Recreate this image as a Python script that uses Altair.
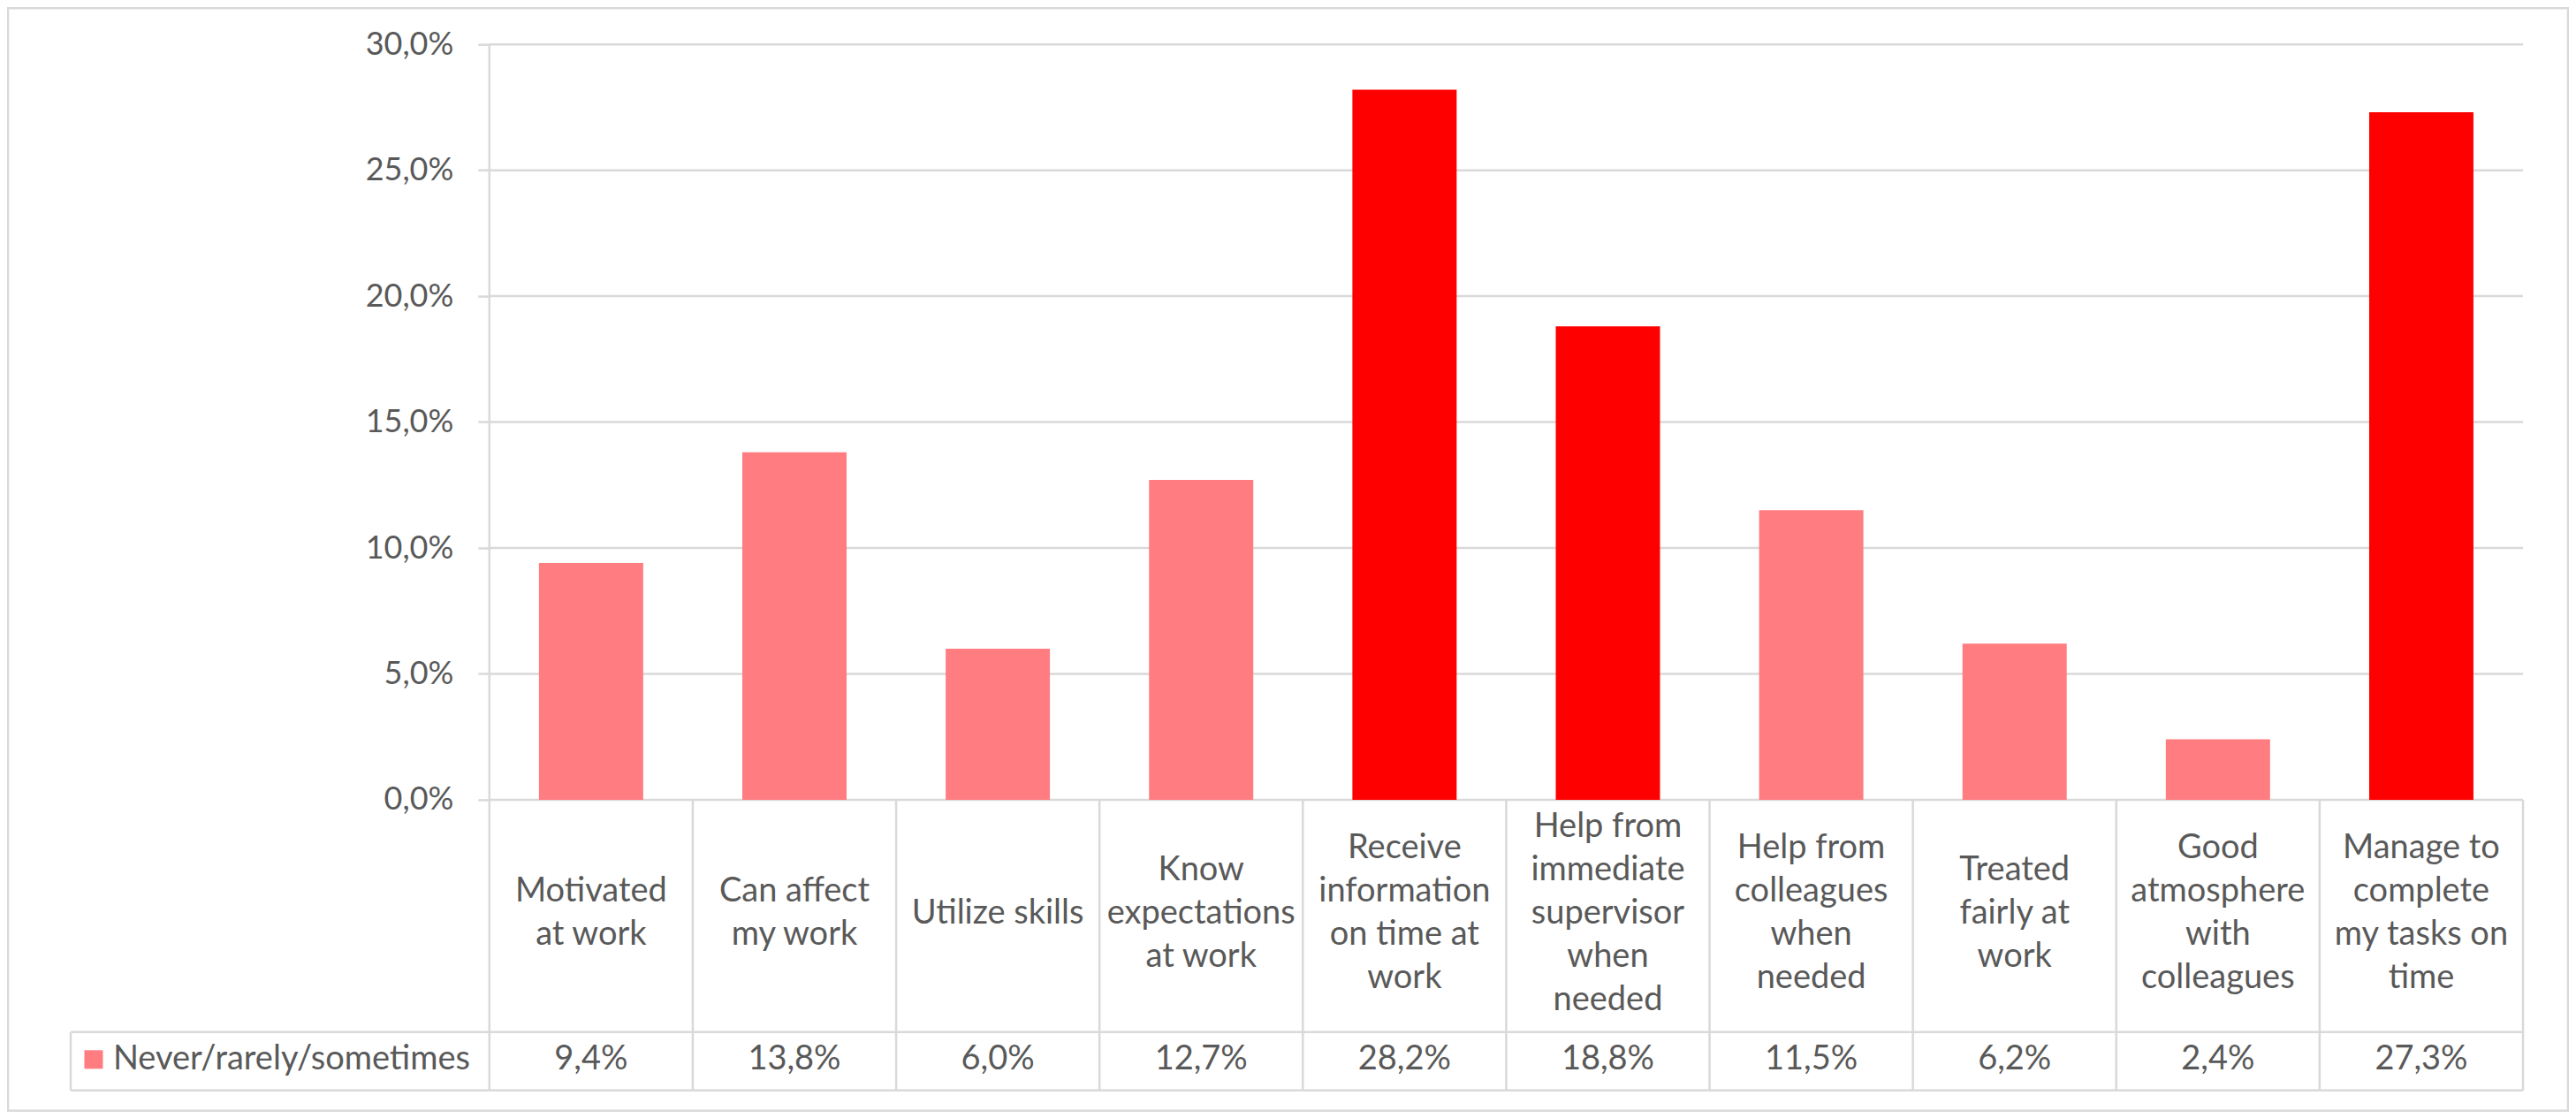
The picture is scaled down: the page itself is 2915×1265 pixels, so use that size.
import altair as alt
import pandas as pd

# ---- data ----
categories = [
    "Motivated\nat work",
    "Can affect\nmy work",
    "Utilize skills",
    "Know\nexpectations\nat work",
    "Receive\ninformation\non time at\nwork",
    "Help from\nimmediate\nsupervisor\nwhen\nneeded",
    "Help from\ncolleagues\nwhen\nneeded",
    "Treated\nfairly at\nwork",
    "Good\natmosphere\nwith\ncolleagues",
    "Manage to\ncomplete\nmy tasks on\ntime",
]
values = [9.4, 13.8, 6.0, 12.7, 28.2, 18.8, 11.5, 6.2, 2.4, 27.3]
series_name = "Never/rarely/sometimes"
y_ticks = [0, 5, 10, 15, 20, 25, 30]

# ---- layout (pixels of the view) ----
W, H = 2898, 1248
PX0, UX = 545, 230.2      # x pixel of category 0 start, px per category
PY0, UY = 896, 28.5       # y pixel of 0 %, px per percent
xdom = [-PX0 / UX, (W - PX0) / UX]
ydom = [(PY0 - H) / UY, PY0 / UY]

LINE_H = 49
ROW_SPLIT = (905 - 1168) / UY
TABLE_BOTTOM = (905 - 1234) / UY
CAT_Y = (905 - 1034) / UY
VAL_Y = (905 - 1199) / UY
LEG_LEFT = (80 - 554) / UX
LEG_SQ = (106 - 554) / UX
LEG_TXT = (128 - 554) / UX
HALF_BAR = 0.2563

n = len(categories)
TEXT = "#595959"
GRID = "#D9D9D9"
FONT = "Lato"
FS = 38
FS_AX = 36

xs = alt.Scale(domain=xdom, nice=False, zero=False)
ys = alt.Scale(domain=ydom, nice=False, zero=False)
yaxis = alt.Axis(
    values=y_ticks,
    labelExpr="replace(format(datum.value, '.1f'), '.', ',') + '%'",
    grid=False, domain=False, title=None,
    tickColor=GRID, tickWidth=2.5, tickSize=13,
    labelPadding=28, labelFontSize=FS_AX, labelFont=FONT, labelColor=TEXT,
    offset=-PX0,
)

bars_df = pd.DataFrame({
    "cat": categories,
    "value": values,
    "idx": list(range(n)),
})
bars_df["x"] = bars_df["idx"] + 0.5 - HALF_BAR
bars_df["x2"] = bars_df["idx"] + 0.5 + HALF_BAR
bars_df["xc"] = bars_df["idx"] + 0.5
bars_df["label"] = [f"{v:.1f}".replace(".", ",") + "%" for v in values]
bars_df["zero"] = 0.0
# first line position so that the whole block is centred in the row
bars_df["caty"] = [CAT_Y + (c.count("\n") / 2) * LINE_H / UY for c in categories]
bars_df["valy"] = VAL_Y

# grid lines (horizontal)
grid_df = pd.DataFrame({"y": y_ticks, "x": 0.0, "x2": float(n)})

# table lines
segs = []
for i in range(n + 1):
    top = y_ticks[-1] if i == 0 else 0.0
    segs.append({"x": float(i), "x2": float(i), "y": top, "y2": TABLE_BOTTOM})
segs.append({"x": LEG_LEFT, "x2": LEG_LEFT, "y": ROW_SPLIT, "y2": TABLE_BOTTOM})
segs.append({"x": LEG_LEFT, "x2": float(n), "y": ROW_SPLIT, "y2": ROW_SPLIT})
segs.append({"x": LEG_LEFT, "x2": float(n), "y": TABLE_BOTTOM, "y2": TABLE_BOTTOM})
lines_df = pd.DataFrame(segs)

legend_df = pd.DataFrame({"name": [series_name], "x": [LEG_SQ], "xt": [LEG_TXT], "y": [VAL_Y]})

base_x = lambda f: alt.X(f, type="quantitative", scale=xs, axis=None)
base_y = lambda f: alt.Y(f, type="quantitative", scale=ys, axis=yaxis)

grid = alt.Chart(grid_df).mark_rule(color=GRID, strokeWidth=2.5).encode(
    x=base_x("x"), x2="x2", y=base_y("y")
)
lines = alt.Chart(lines_df).mark_rule(color=GRID, strokeWidth=2.5).encode(
    x=base_x("x"), x2="x2", y=base_y("y"), y2="y2"
)
bars = alt.Chart(bars_df).mark_rect().encode(
    x=base_x("x"), x2="x2", y=base_y("zero"), y2="value",
    color=alt.condition("datum.value > 15", alt.value("#FF0000"), alt.value("#FF7C80")),
)
cat_text = alt.Chart(bars_df).mark_text(
    lineBreak="\n", lineHeight=LINE_H, fontSize=FS, font=FONT, color=TEXT,
    align="center", baseline="middle",
).encode(x=base_x("xc"), y=base_y("caty"), text="cat")
val_text = alt.Chart(bars_df).mark_text(
    fontSize=FS, font=FONT, color=TEXT, align="center", baseline="middle",
).encode(x=base_x("xc"), y=base_y("valy"), text="label")
leg_sq = alt.Chart(legend_df).mark_square(size=441, color="#FF7C80", opacity=1).encode(
    x=base_x("x"), y=base_y("y")
)
leg_txt = alt.Chart(legend_df).mark_text(
    fontSize=FS, font=FONT, color=TEXT, align="left", baseline="middle",
).encode(x=base_x("xt"), y=base_y("y"), text="name")

chart = alt.layer(grid, lines, bars, cat_text, val_text, leg_sq, leg_txt).properties(
    width=W, height=H, autosize="none",
    padding={"left": 1, "top": 1, "right": 1, "bottom": 1},
    background="white",
).configure_view(stroke=GRID, strokeWidth=2.5)

chart.save("out.html", embed_options={"renderer": "svg", "actions": False})
